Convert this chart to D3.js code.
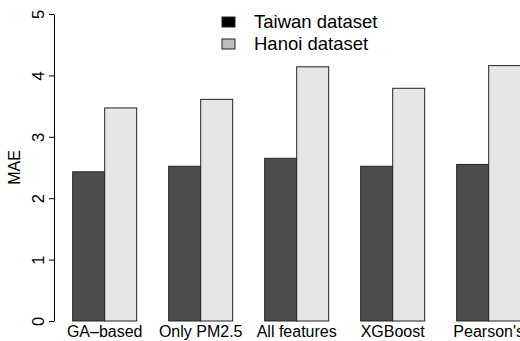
<!DOCTYPE html>
<html>
<head>
    <meta charset="utf-8">
    <style>
        body { margin: 0; background: #fff; }
        svg { display: block; font-family: "Liberation Sans", Arial, Helvetica, sans-serif; }
        .y.axis .domain, .y.axis .tick line { stroke: #000; }
        .y.axis .tick text { font-size: 16.5px; fill: #000; }
    </style>
</head>
<body>
<svg width="520" height="341"></svg>

<script src="https://d3js.org/d3.v7.min.js"></script>
<script>
    // data
    let methods = ["GA\u2013based", "Only PM2.5", "All features", "XGBoost", "Pearson's"]
    let datasets = ["Taiwan dataset", "Hanoi dataset"]
    let taiwan = [2.43, 2.52, 2.65, 2.52, 2.55]
    let hanoi = [3.47, 3.61, 4.14, 3.79, 4.16]
    let yTicks = [0, 1, 2, 3, 4, 5]

    let barFill = { "Taiwan dataset": "#4d4d4d", "Hanoi dataset": "#e6e6e6" }
    let keyFill = { "Taiwan dataset": "#000000", "Hanoi dataset": "#bebebe" }

    let svg = d3.select("svg")

    // R-style barplot units: each group = 2 bars + 1 gap, one unit = 32px
    let unit = d3.scaleLinear().domain([1, 2]).range([72.7, 104.7])
    let axisX = 54

    let y = d3.scaleLinear().domain([0, 5]).range([321, 14])

    let x0 = d3.scaleBand()
        .domain(methods)
        .range([unit(0), unit(16)])
        .paddingInner(1 / 3)
        .paddingOuter(1 / 3)

    let x1 = d3.scaleBand()
        .domain(datasets)
        .range([0, x0.bandwidth()])

    let rows = methods.map((m, i) => ({ method: m, values: [
        { key: datasets[0], value: taiwan[i] },
        { key: datasets[1], value: hanoi[i] }
    ] }))

    // bars
    svg.append("g")
        .selectAll("g")
        .data(rows)
        .join("g")
        .attr("transform", d => `translate(${x0(d.method)},0)`)
        .selectAll("rect")
        .data(d => d.values)
        .join("rect")
        .attr("x", d => x1(d.key))
        .attr("y", d => y(d.value))
        .attr("width", x1.bandwidth())
        .attr("height", d => y(0) - y(d.value))
        .style("fill", d => barFill[d.key])
        .style("stroke", "#222")
        .style("stroke-width", 1)

    // y axis
    let yAxis = svg.append("g")
        .attr("class", "y axis")
        .attr("transform", `translate(${axisX},0)`)
        .call(d3.axisLeft(y).tickValues(yTicks).tickSize(5).tickSizeOuter(0).tickFormat(d3.format("d")))

    yAxis.selectAll(".tick text")
        .attr("x", null).attr("dy", null)
        .attr("text-anchor", "middle")
        .attr("transform", "translate(-10,0) rotate(-90)")

    svg.append("text")
        .attr("transform", `translate(19.5,${(y(0) + y(5)) / 2}) rotate(-90)`)
        .attr("text-anchor", "middle")
        .style("font-size", "16px")
        .text("MAE")

    // x labels
    svg.append("g")
        .selectAll("text")
        .data(methods)
        .join("text")
        .attr("x", d => x0(d) + x0.bandwidth() / 2)
        .attr("y", 336.5)
        .attr("text-anchor", "middle")
        .style("font-size", "16px")
        .text(d => d)

    // legend
    let legend = svg.append("g")
        .selectAll("g")
        .data(datasets)
        .join("g")
        .attr("transform", (d, i) => `translate(222,${17 + i * 22})`)

    legend.append("rect")
        .attr("width", 13)
        .attr("height", 10)
        .style("fill", d => keyFill[d])
        .style("stroke", "#222")
        .style("stroke-width", 1)

    legend.append("text")
        .attr("x", 32)
        .attr("y", 10.5)
        .style("font-size", "18.5px")
        .text(d => d)
</script>
</body>
</html>
